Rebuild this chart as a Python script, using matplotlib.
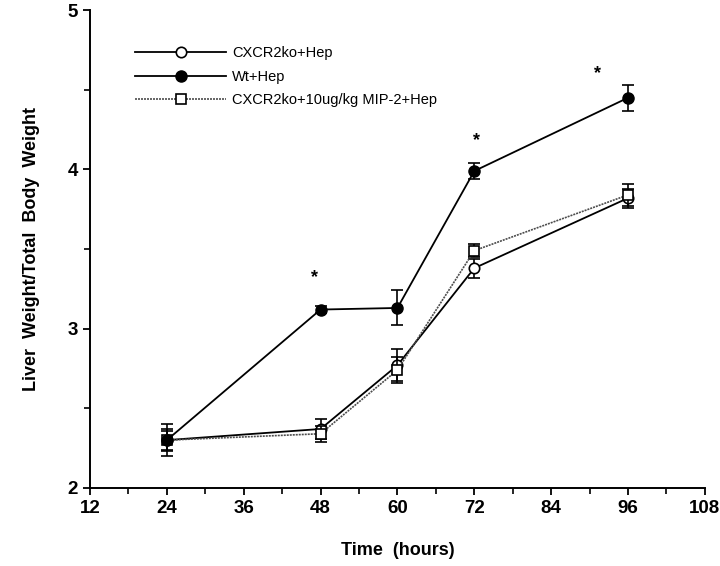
import matplotlib.pyplot as plt
from matplotlib.ticker import MultipleLocator

plt.rcParams['font.family'] = ['Liberation Sans', 'DejaVu Sans']

hours = [24, 48, 60, 72, 96]

ko_mean = [2.30, 2.37, 2.77, 3.38, 3.82]
ko_err = [0.07, 0.06, 0.10, 0.06, 0.06]

wt_mean = [2.30, 3.12, 3.13, 3.99, 4.45]
wt_err = [0.10, 0.02, 0.11, 0.05, 0.08]

mip_mean = [2.30, 2.34, 2.74, 3.49, 3.84]
mip_err = [0.06, 0.05, 0.08, 0.04, 0.07]

star_x = [47, 72.3, 91.3]
star_y = [3.32, 4.18, 4.60]

fig = plt.figure(figsize=(7.2, 5.66), dpi=100)
ax = fig.add_axes([0.125, 0.138, 0.854, 0.844])

ko = ax.errorbar(hours, ko_mean, yerr=ko_err, color='black', lw=1.3,
                 marker='o', ms=7.5, mfc='white', mec='black', mew=1.2,
                 elinewidth=1.2, capsize=4, capthick=1.2,
                 label='CXCR2ko+Hep', zorder=2)
mip = ax.errorbar(hours, mip_mean, yerr=mip_err, color='0.3', lw=1.2,
                  linestyle=(0, (1.2, 0.6)), marker='s', ms=7, mfc='white',
                  mec='black', mew=1.2, ecolor='black', elinewidth=1.2,
                  capsize=4, capthick=1.2,
                  label='CXCR2ko+10ug/kg MIP-2+Hep', zorder=3)
wt = ax.errorbar(hours, wt_mean, yerr=wt_err, color='black', lw=1.3,
                 marker='o', ms=8, mfc='black', mec='black',
                 elinewidth=1.2, capsize=4, capthick=1.2,
                 label='Wt+Hep', zorder=4)

for sx, sy in zip(star_x, star_y):
    ax.text(sx, sy, '*', ha='center', va='center', fontsize=13,
            fontweight='bold')

ax.set_xlim(12, 108)
ax.set_ylim(2, 5)
ax.xaxis.set_major_locator(MultipleLocator(12))
ax.xaxis.set_minor_locator(MultipleLocator(6))
ax.yaxis.set_major_locator(MultipleLocator(1))
ax.yaxis.set_minor_locator(MultipleLocator(0.5))

for side in ['top', 'right']:
    ax.spines[side].set_visible(False)
for side in ['left', 'bottom']:
    ax.spines[side].set_linewidth(1.4)

ax.tick_params(which='major', length=5, width=1.3, labelsize=13.5)
ax.tick_params(which='minor', length=4, width=1.2)
for lab in ax.get_xticklabels() + ax.get_yticklabels():
    lab.set_fontweight('bold')

ax.set_xlabel('Time  (hours)', fontsize=13, fontweight='bold', labelpad=18)
ax.set_ylabel('Liver  Weight/Total  Body  Weight', fontsize=13,
              fontweight='bold', labelpad=20)

# legend shows only line + marker, no error bars
ax.legend([ko[0], wt[0], mip[0]],
          ['CXCR2ko+Hep', 'Wt+Hep', 'CXCR2ko+10ug/kg MIP-2+Hep'],
          loc='upper left', bbox_to_anchor=(0.178, 0.931),
          bbox_transform=fig.transFigure, borderpad=0, frameon=False,
          fontsize=10.5, handlelength=6.2, labelspacing=0.65,
          handletextpad=0.45)

plt.savefig('out.png', dpi=100)
